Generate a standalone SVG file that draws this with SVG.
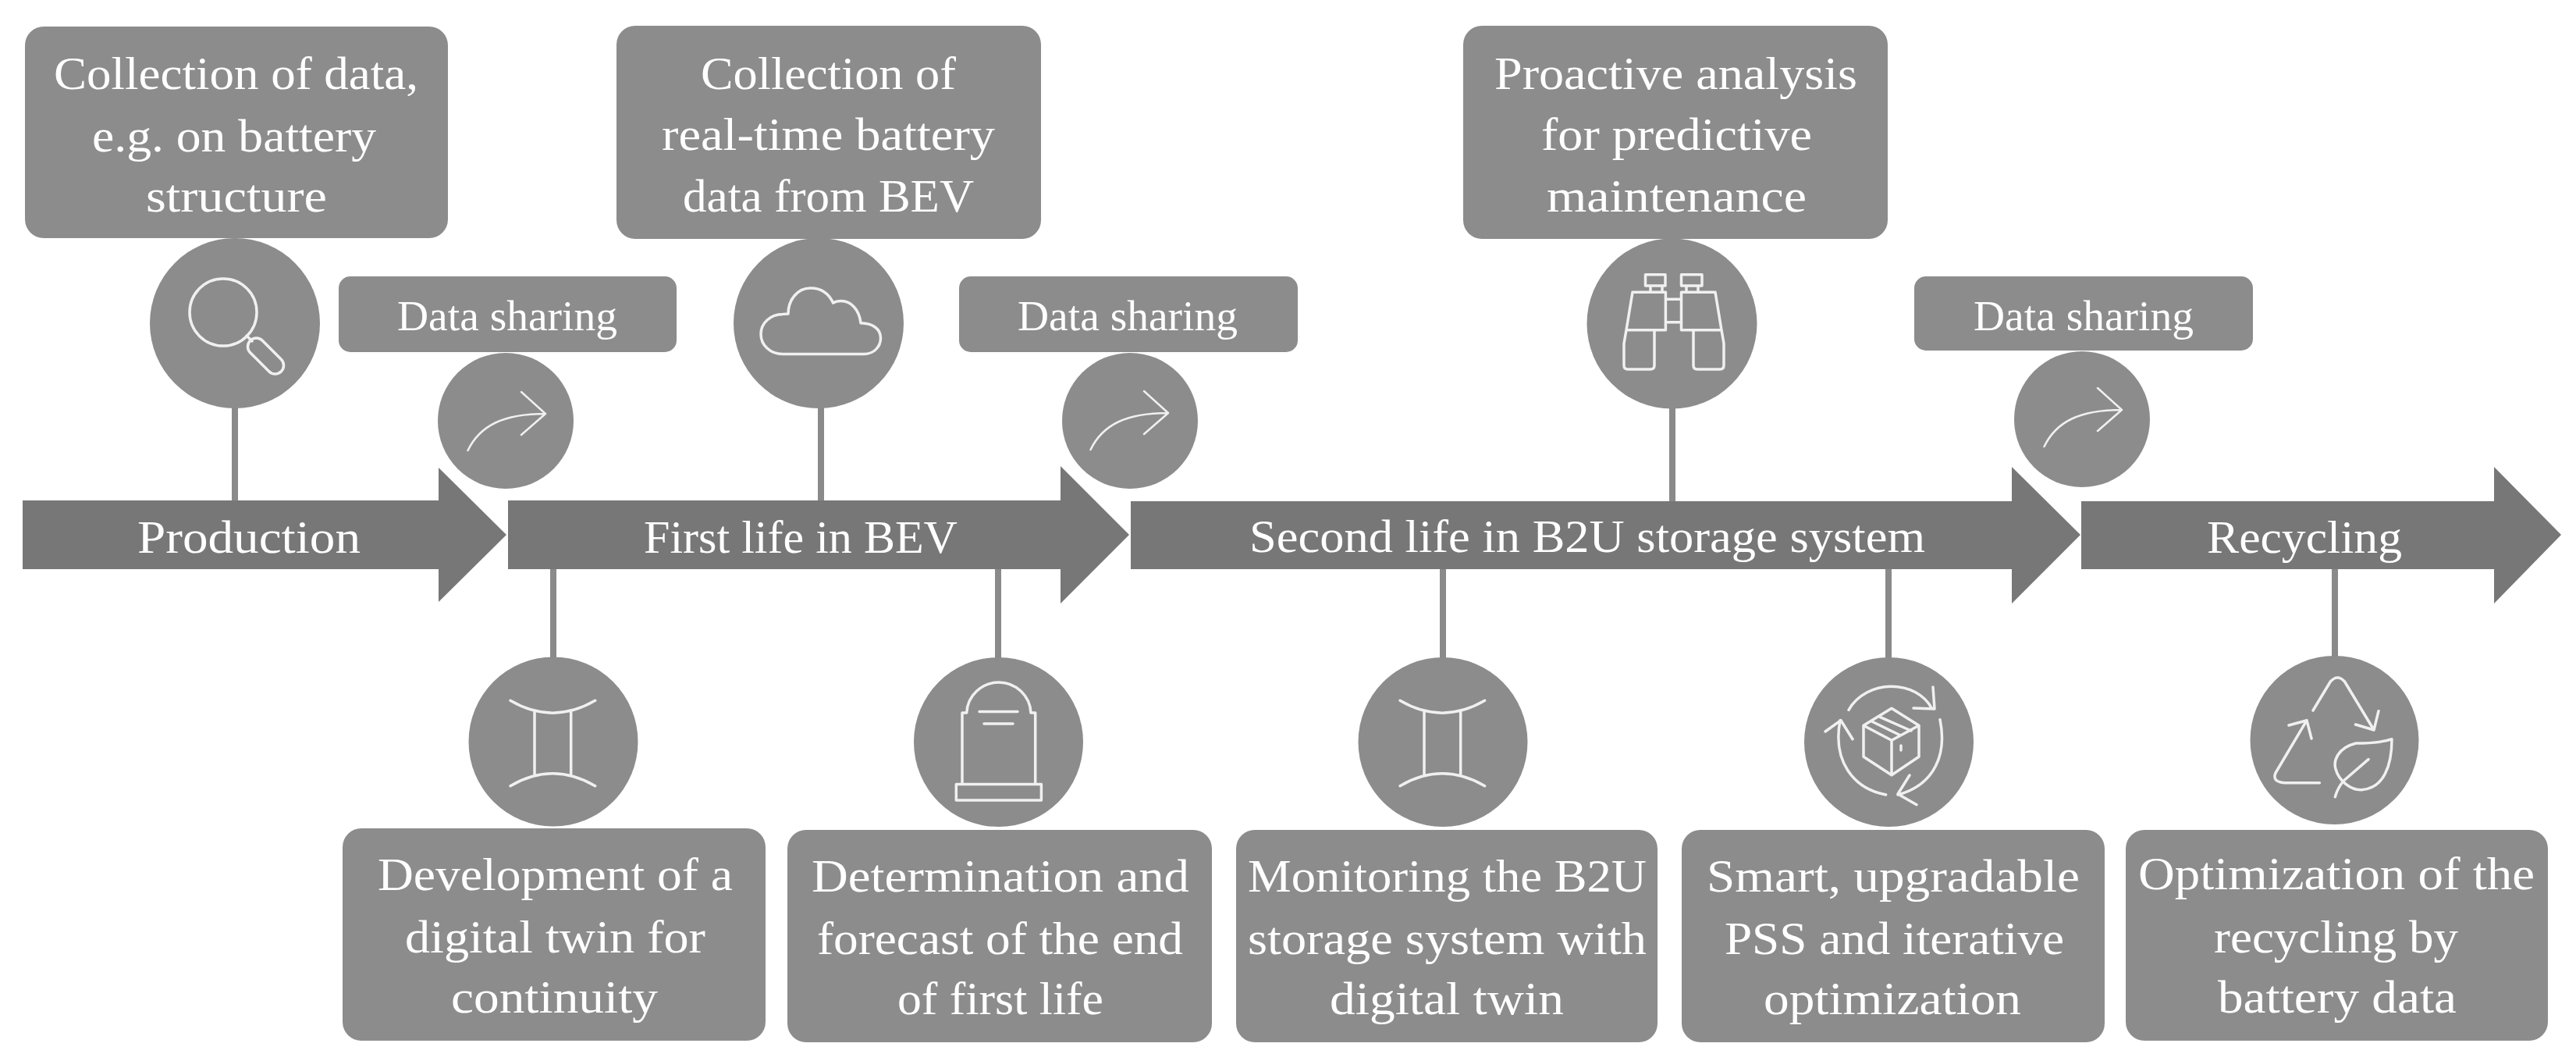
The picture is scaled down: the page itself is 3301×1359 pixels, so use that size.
<svg xmlns="http://www.w3.org/2000/svg" width="3301" height="1359" viewBox="0 0 3301 1359">
<style>
text{font-family:"Liberation Serif","DejaVu Serif",serif;fill:#fff;font-size:60px}
.s{font-size:54px}
.box{fill:#8c8c8c}
.arr{fill:#777}
.conn{stroke:#8a8a8a;stroke-width:8;fill:none}
.ic{fill:none;stroke:#f0f0f0;stroke-width:3.5;stroke-linejoin:round;stroke-linecap:round}
.th{stroke-width:2.5}
</style>
<defs>
<g id="share"><path class="ic th" d="M599.5 577C615 545 645 530 699 530M668 502L699 530L668 557"/></g>
<g id="twin"><path class="ic" d="M654 897.3Q708 929 762.7 897.3M654 1006.7Q708 975 762.7 1006.7M685 911V992M731.7 911V992"/></g>
</defs>
<rect width="3301" height="1359" fill="#fff"/>
<g id="connectors">
<line class="conn" x1="301" y1="520" x2="301" y2="642"/>
<line class="conn" x1="1052" y1="520" x2="1052" y2="642"/>
<line class="conn" x1="2143" y1="520" x2="2143" y2="642"/>
<line class="conn" x1="709" y1="728" x2="709" y2="845"/>
<line class="conn" x1="1279" y1="728" x2="1279" y2="845"/>
<line class="conn" x1="1849" y1="728" x2="1849" y2="845"/>
<line class="conn" x1="2420" y1="728" x2="2420" y2="845"/>
<line class="conn" x1="2992" y1="728" x2="2992" y2="842"/>
</g>
<g id="stage-production">
<path class="arr" d="M29 641H562V599L649 685L562 771V729H29Z"/>
<text x="176" y="708" textLength="286" lengthAdjust="spacingAndGlyphs">Production</text>
</g>
<g id="stage-first-life">
<path class="arr" d="M651 641H1359V597L1447 685L1359 773V729H651Z"/>
<text x="825" y="708" textLength="402" lengthAdjust="spacingAndGlyphs">First life in BEV</text>
</g>
<g id="stage-second-life">
<path class="arr" d="M1449 642H2578V598L2666 685L2578 773V729H1449Z"/>
<text x="1601" y="707" textLength="866" lengthAdjust="spacingAndGlyphs">Second life in B2U storage system</text>
</g>
<g id="stage-recycling">
<path class="arr" d="M2667 642H3196V598L3282 685L3196 773V729H2667Z"/>
<text x="2828" y="708" textLength="250" lengthAdjust="spacingAndGlyphs">Recycling</text>
</g>
<g id="node-collection">
<rect class="box" x="32" y="34" width="542" height="271" rx="24"/>
<text x="69" y="114" textLength="467" lengthAdjust="spacingAndGlyphs">Collection of data,</text>
<text x="118" y="194" textLength="364" lengthAdjust="spacingAndGlyphs">e.g. on battery</text>
<text x="187" y="271" textLength="232" lengthAdjust="spacingAndGlyphs">structure</text>
<circle class="box" cx="301" cy="414" r="109"/>
<circle class="ic" cx="286" cy="400" r="43"/>
<path class="ic" d="M316 430L323 437"/>
<rect class="ic" x="312.500" y="445" width="56" height="22" rx="11" transform="rotate(45 340.500 456)"/>
</g>
<g id="node-share-1">
<rect class="box" x="434" y="354" width="433" height="97" rx="15"/>
<text class="s" x="509" y="423" textLength="282" lengthAdjust="spacingAndGlyphs">Data sharing</text>
<circle class="box" cx="648" cy="539" r="87"/>
<use href="#share"/>
</g>
<g id="node-realtime">
<rect class="box" x="790" y="33" width="544" height="273" rx="24"/>
<text x="898" y="114" textLength="327" lengthAdjust="spacingAndGlyphs">Collection of</text>
<text x="848" y="192" textLength="427" lengthAdjust="spacingAndGlyphs">real-time battery</text>
<text x="875" y="271" textLength="373" lengthAdjust="spacingAndGlyphs">data from BEV</text>
<circle class="box" cx="1049" cy="414" r="109"/>
<path class="ic" d="M1003 453.500H1107C1120 453.500 1128.500 444 1128.500 433C1128.500 421 1118 414 1103 413.700C1101 396 1090 385.600 1078 385.600C1074 385.600 1070 386.500 1067.600 388C1062 376 1052 369 1038.500 369C1022 369 1010 384 1010 402C1008 402 1005 402 1003 402.400C987 402.400 975 414 975 428C975 442 987 453.500 1003 453.500Z"/>
</g>
<g id="node-share-2">
<rect class="box" x="1229" y="354" width="434" height="97" rx="15"/>
<text class="s" x="1304" y="423" textLength="282" lengthAdjust="spacingAndGlyphs">Data sharing</text>
<circle class="box" cx="1448" cy="539" r="87"/>
<use href="#share" transform="translate(798 -1)"/>
</g>
<g id="node-proactive">
<rect class="box" x="1875" y="33" width="544" height="273" rx="24"/>
<text x="1915" y="114" textLength="465" lengthAdjust="spacingAndGlyphs">Proactive analysis</text>
<text x="1975" y="192" textLength="347" lengthAdjust="spacingAndGlyphs">for predictive</text>
<text x="1982" y="271" textLength="333" lengthAdjust="spacingAndGlyphs">maintenance</text>
<circle class="box" cx="2142.500" cy="414.500" r="109"/>
<path class="ic" d="M2108.500 351.700H2134V366H2108.500ZM2154.500 351.700H2181V366H2154.500ZM2115 366V374M2130 366V374M2161 366V374M2176 366V374M2092 374.300H2134.400V422.700H2084ZM2154.500 374.300H2198L2206 422.700H2154.500ZM2134.400 383.300H2154.500M2134.400 412.700H2154.500M2084 422.700L2081 440V468Q2081 473 2086 473H2115Q2120 473 2120 468V422.700M2206 422.700L2209 440V468Q2209 473 2204 473H2175Q2170 473 2170 468V422.700"/>
</g>
<g id="node-share-3">
<rect class="box" x="2453" y="354" width="434" height="95" rx="15"/>
<text class="s" x="2529" y="423" textLength="282" lengthAdjust="spacingAndGlyphs">Data sharing</text>
<circle class="box" cx="2668" cy="537" r="87"/>
<use href="#share" transform="translate(2020 -5)"/>
</g>
<g id="node-twin">
<rect class="box" x="439" y="1061" width="542" height="272" rx="24"/>
<text x="484" y="1140" textLength="455" lengthAdjust="spacingAndGlyphs">Development of a</text>
<text x="519" y="1220" textLength="385" lengthAdjust="spacingAndGlyphs">digital twin for</text>
<text x="578" y="1297" textLength="265" lengthAdjust="spacingAndGlyphs">continuity</text>
<circle class="box" cx="709" cy="950" r="108.500"/>
<use href="#twin"/>
</g>
<g id="node-end-of-life">
<rect class="box" x="1009" y="1063" width="544" height="272" rx="24"/>
<text x="1040" y="1142" textLength="484" lengthAdjust="spacingAndGlyphs">Determination and</text>
<text x="1047" y="1222" textLength="469" lengthAdjust="spacingAndGlyphs">forecast of the end</text>
<text x="1150" y="1299" textLength="264" lengthAdjust="spacingAndGlyphs">of first life</text>
<circle class="box" cx="1279.500" cy="950.500" r="108.500"/>
<path class="ic" d="M1225.300 1004.500H1334.400V1025H1225.300ZM1233 1004.500V913H1238.700A41.200 41 0 0 1 1321 913H1326.700V1004.500M1255 911.600H1304M1261 927H1298"/>
</g>
<g id="node-monitoring">
<rect class="box" x="1584" y="1063" width="540" height="272" rx="24"/>
<text x="1599" y="1142" textLength="511" lengthAdjust="spacingAndGlyphs">Monitoring the B2U</text>
<text x="1599" y="1222" textLength="511" lengthAdjust="spacingAndGlyphs">storage system with</text>
<text x="1704" y="1299" textLength="300" lengthAdjust="spacingAndGlyphs">digital twin</text>
<circle class="box" cx="1849" cy="950.500" r="108.500"/>
<use href="#twin" transform="translate(1140 0)"/>
</g>
<g id="node-pss">
<rect class="box" x="2155" y="1063" width="542" height="272" rx="24"/>
<text x="2187" y="1142" textLength="478" lengthAdjust="spacingAndGlyphs">Smart, upgradable</text>
<text x="2210" y="1222" textLength="435" lengthAdjust="spacingAndGlyphs">PSS and iterative</text>
<text x="2260" y="1299" textLength="330" lengthAdjust="spacingAndGlyphs">optimization</text>
<circle class="box" cx="2420.500" cy="950.500" r="108.500"/>
<path class="ic" d="M2424 907.300L2388 929.300V969.300L2424 992.700L2459 969.300V929.300ZM2388 929.300L2424 948.300L2459 929.300M2424 948.300V992.700M2409 918.300L2449 936M2398.500 924L2435 941.700M2436 955V961M2369 909.300C2380 890 2402 879.300 2423 879.300C2447 879.300 2466 890 2475.500 907.300M2477 880L2479 908L2452 907M2486 921.700C2495 965 2480 1005 2432 1018M2447 993L2432 1017L2456 1030.700M2416.700 1018C2375 1010 2348 975 2358 922.700M2339 937L2359 922.700L2374 946.700"/>
</g>
<g id="node-recycling">
<rect class="box" x="2724" y="1063" width="541" height="270" rx="24"/>
<text x="2740" y="1139" textLength="508" lengthAdjust="spacingAndGlyphs">Optimization of the</text>
<text x="2837" y="1220" textLength="313" lengthAdjust="spacingAndGlyphs">recycling by</text>
<text x="2842" y="1297" textLength="306" lengthAdjust="spacingAndGlyphs">battery data</text>
<circle class="box" cx="2991.500" cy="948" r="108"/>
<path class="ic" d="M2964 910L2986.300 873Q2995.500 863 3004.500 873L3042 935M3048 910.700L3042 935L3018.500 928M2972.400 1002.700H2929Q2911 1002 2916 990L2956 922.700M2933 929L2956 922.700L2962 946M3065 946.700C3050 952 3030 952 3019 952C2995 958 2990 975 2993 985C2997 1000 3012 1012 3026 1011.700C3055 1010 3065 980 3065 946.700ZM3035 972.700L3003.300 1000Q2995 1010 2992.400 1020.700"/>
</g>
</svg>
